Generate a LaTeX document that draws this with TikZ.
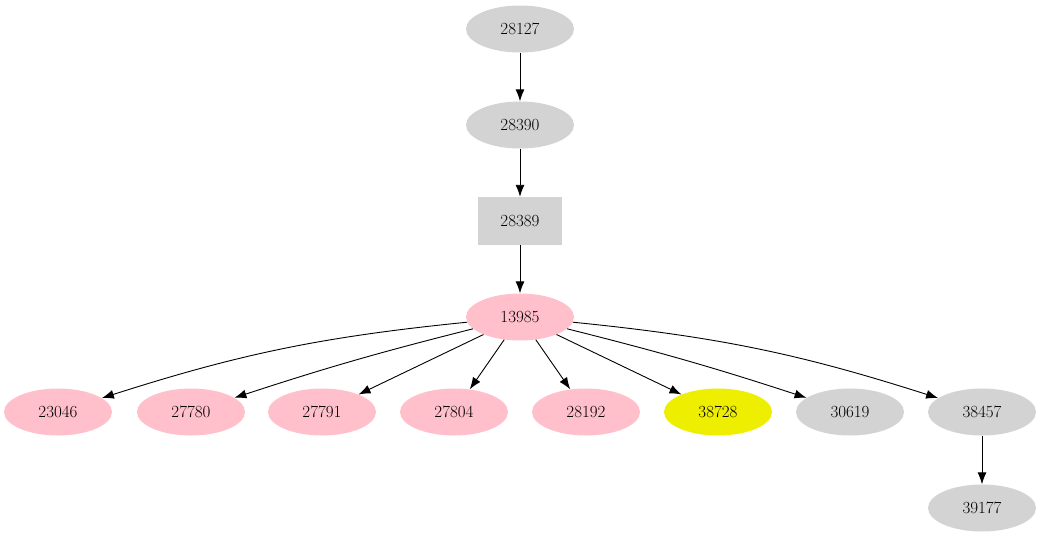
\documentclass[tikz,border=0pt]{standalone}
\usetikzlibrary{shapes.geometric, arrows.meta}
\definecolor{gnode}{RGB}{211,211,211}
\definecolor{pnode}{RGB}{255,192,203}
\definecolor{ynode}{RGB}{238,238,0}
\begin{document}
\begin{tikzpicture}[x=1pt, y=-1pt, font=\fontsize{17}{20}\selectfont]
	\tikzstyle{oval}=[
	ellipse,
	inner sep=0pt,
	minimum width=108pt,
	minimum height=47pt]
	\tikzstyle{grey}=[oval, fill=gnode]
	\tikzstyle{pink}=[oval, fill=pnode]
	\tikzstyle{sq}=[rectangle, fill=gnode, minimum width=84pt, minimum height=48pt]
	\tikzstyle{arr}=[-{Latex[length=12pt, width=9pt]}, line width=0.9pt]
	\useasboundingbox (0,0) rectangle (1042,539);
	\node[grey] (A) at (520,29) {28127};
	\node[grey] (B) at (520,125) {28390};
	\node[sq] (C) at (520,221) {28389};
	\node[pink] (D) at (520,317) {13985};
	\node[pink] (E1) at (58,412) {23046};
	\node[pink] (E2) at (191,412) {27780};
	\node[pink] (E3) at (322,412) {27791};
	\node[pink] (E4) at (454,412) {27804};
	\node[pink] (E5) at (586,412) {28192};
	\node[oval, fill=ynode] (E6) at (718,412) {38728};
	\node[grey] (E7) at (850,412) {30619};
	\node[grey] (E8) at (982,412) {38457};
	\node[grey] (F) at (982,508) {39177};
	%
	\draw[arr] (A) -- (B);
	\draw[arr] (B) -- (C);
	\draw[arr] (C) -- (D);
	\draw[arr] (D) to[bend right=6] (E1);
	\draw[arr] (D) to[bend right=2] (E2);
	\draw[arr] (D) -- (E3);
	\draw[arr] (D) -- (E4);
	\draw[arr] (D) -- (E5);
	\draw[arr] (D) -- (E6);
	\draw[arr] (D) to[bend left=2] (E7);
	\draw[arr] (D) to[bend left=6] (E8);
	\draw[arr] (E8) -- (F);
\end{tikzpicture}
\end{document}
